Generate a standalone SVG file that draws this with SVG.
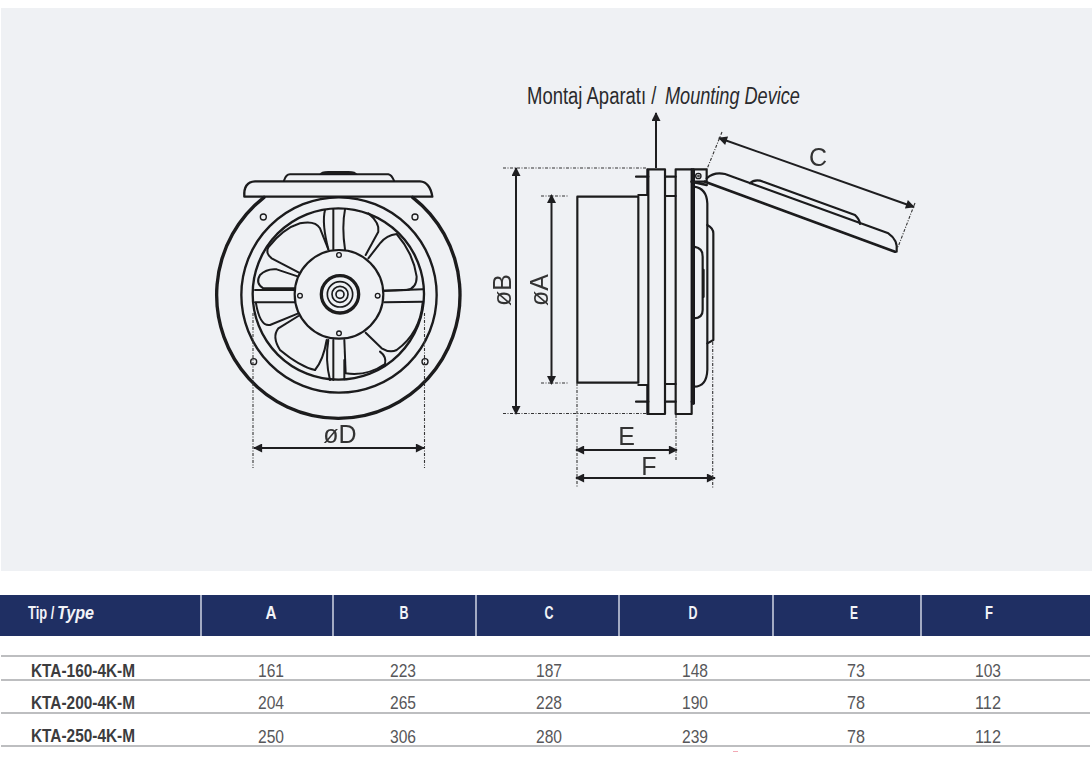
<svg xmlns="http://www.w3.org/2000/svg" width="1092" height="764" viewBox="0 0 1092 764">
<style>
text{font-family:"Liberation Sans",Arial,sans-serif}
.ln{fill:none;stroke:#1a1a1c;stroke-linecap:round;stroke-linejoin:round}
.dim{fill:none;stroke:#1e1e20;stroke-width:2}
.dash{fill:none;stroke:#333;stroke-width:1.1;stroke-dasharray:3 1.5 1 1.5}
.lab{font-size:25px;fill:#333}
.hd{font-size:19px;font-weight:700;fill:#f2f3f7;text-anchor:middle}
.nm{font-size:18px;font-weight:700;fill:#3c3c3e}
.v{font-size:19px;fill:#57575a;text-anchor:middle}
.rule{stroke:#bdbec0;stroke-width:2}
.sep{stroke:#c4cadb;stroke-width:1.6}
</style>
<defs>
<marker id="ah" viewBox="0 0 10 10" refX="9" refY="5" markerWidth="10" markerHeight="9" markerUnits="userSpaceOnUse" orient="auto-start-reverse"><path d="M0 0L10 5L0 10z" fill="#1e1e20"/></marker>
<filter id="soft" x="-5%" y="-5%" width="110%" height="110%"><feGaussianBlur stdDeviation="0.45"/></filter>
</defs>
<rect width="1092" height="764" fill="#fff"/>
<rect x="1" y="8" width="1091" height="563" fill="#eff1f4"/>

<g filter="url(#soft)">
<g id="fan-front" transform="translate(200 160) scale(.33333)">
<path class="ln" stroke-width="10" d="M192 112A365 370 0 1 0 638 112"/>
<circle class="ln" stroke-width="7" cx="417" cy="405" r="293"/>
<circle class="ln" stroke-width="7" cx="415" cy="402" r="257"/>
<path d="M133 110Q130 66 165 64H660Q690 66 697 110Z" fill="#eff1f4" class="ln" stroke-width="7"/>
<path class="ln" stroke-width="6" d="M252 62Q258 43 270 43H565Q575 45 582 62"/>
<path d="M358 43Q362 33 385 33H445Q468 33 472 43Z" fill="#1a1a1c"/>
<g class="ln" stroke-width="6">
<path d="M297 338L215 295Q195 280 205 262Q250 205 300 190Q345 180 360 205L385 268"/>
<path d="M375 150Q365 190 385 268M400 148V268M435 148Q425 200 435 268"/>
<path d="M505 160Q540 190 535 215L497 285M590 222Q560 225 540 250L505 295M590 222Q640 280 650 350Q650 385 620 390L553 392"/>
<path d="M553 392L668 388M553 427L668 425"/>
<path d="M668 428Q660 520 590 570Q570 580 545 565L497 518M540 575Q560 590 555 612Q500 650 437 640L433 540"/>
<path d="M400 540V660M433 600V658M380 540Q370 600 345 630M385 540Q375 600 390 660"/>
<path d="M345 630Q300 620 240 570Q215 530 235 505L295 468M295 460L210 495Q180 500 168 430"/>
<path d="M285 390L165 390M285 427L165 427M285 385L190 385Q165 370 180 345Q200 325 230 328L295 350"/>
</g>
<circle class="ln" style="fill:#eff1f4" stroke-width="6.500" cx="417" cy="403" r="133"/>
<circle class="ln" stroke-width="10" cx="420" cy="403" r="56"/>
<circle class="ln" stroke-width="5" cx="420" cy="403" r="38"/>
<circle class="ln" stroke-width="5" cx="420" cy="403" r="24"/>
<circle class="ln" stroke-width="5" cx="420" cy="403" r="12"/>
<g class="ln" stroke-width="4">
<circle cx="190" cy="171" r="9"/><circle cx="645" cy="171" r="9"/><circle cx="161" cy="605" r="9"/><circle cx="675" cy="605" r="9"/>
<circle cx="417" cy="285" r="7"/><circle cx="300" cy="407" r="7"/><circle cx="533" cy="407" r="7"/><circle cx="417" cy="520" r="7"/>
</g>
</g>

<g id="fan-side" transform="translate(490 70) scale(.33333)">
<g class="ln" stroke-width="6.500">
<rect x="262" y="380" width="183" height="558"/>
<path d="M445 375H472V298M445 945H472V1032M438 320H475M438 995H475"/>
<rect x="475" y="298" width="50" height="734"/>
<path d="M525 320H557M525 378H557M525 942H557M525 995H557"/>
<rect x="557" y="298" width="48" height="734"/>
<path d="M605 298H650V335H605M605 995H612"/>
<circle cx="625" cy="318" r="8" stroke-width="4"/><circle cx="625" cy="318" r="2.500" stroke-width="3"/>
<path d="M612 350Q650 355 652 400V900Q650 950 612 950"/>
<path d="M652 465Q670 475 670 490V810L652 820"/>
<path d="M612 530Q640 535 638 560V720Q638 745 612 745"/>
<path d="M640 600V680" stroke-width="8"/>
<path d="M610 300V1000" stroke-width="10"/>
<path d="M605 335L650 345" stroke-width="8"/>
<path d="M645 335L1215 545" stroke-width="8"/>
<path d="M650 325Q672 305 705 312L1195 490Q1225 510 1220 545"/>
<path d="M780 340Q795 325 820 335L1095 435Q1110 450 1110 462"/>
</g>
</g>
</g>

<g id="connectors">
<path class="dim" marker-start="url(#ah)" marker-end="url(#ah)" d="M254 448H424"/>
<path class="dash" d="M253 313V468M424.500 313V468"/>
<path class="dim" marker-start="url(#ah)" marker-end="url(#ah)" d="M516 168V414"/>
<path class="dash" d="M503 168H647M503 413.500H647"/>
<path class="dim" marker-start="url(#ah)" marker-end="url(#ah)" d="M551.500 195V384"/>
<path class="dash" d="M541 196H568M541 383H568"/>
<path class="dim" marker-start="url(#ah)" marker-end="url(#ah)" d="M576 450H677"/>
<path class="dim" marker-start="url(#ah)" marker-end="url(#ah)" d="M576 478H715"/>
<path class="dash" d="M577 383V488M676 415V460M712.700 342V488"/>
<path class="dim" marker-end="url(#ah)" d="M656 168V113"/>
<path class="dim" marker-start="url(#ah)" marker-end="url(#ah)" d="M719 138L914 207"/>
<path class="dash" d="M722 132L707 169M915 203L898 247"/>
</g>

<g id="labels">
<text class="lab" x="340" y="443" text-anchor="middle">øD</text>
<text class="lab" x="626.700" y="445" text-anchor="middle">E</text>
<text class="lab" x="649" y="475" text-anchor="middle">F</text>
<text class="lab" x="818" y="166" text-anchor="middle">C</text>
<text class="lab" transform="translate(511 290) rotate(-90)" text-anchor="middle">øB</text>
<text class="lab" transform="translate(548 290) rotate(-90)" text-anchor="middle">øA</text>
<text transform="translate(527 104) scale(.77 1)" font-size="24" fill="#2a2a2c">Montaj Aparatı /</text>
<text transform="translate(665 104) scale(.755 1)" font-size="24" font-style="italic" fill="#2a2a2c">Mounting Device</text>
</g>

<g id="table">
<rect x="0" y="595" width="1090" height="41" fill="#1f2f63"/>
<path class="sep" d="M201 595V636M333 595V636M476 595V636M619 595V636M773 595V636M921 595V636"/>
<text class="hd" transform="translate(28 619) scale(.68 1)" style="text-anchor:start">Tip /</text>
<text class="hd" transform="translate(57 619) scale(.85 1)" style="text-anchor:start" font-style="italic">Type</text>
<text class="hd" x="271" y="619" textLength="11" lengthAdjust="spacingAndGlyphs">A</text><text class="hd" x="404" y="619" textLength="9" lengthAdjust="spacingAndGlyphs">B</text><text class="hd" x="549" y="619" textLength="9" lengthAdjust="spacingAndGlyphs">C</text><text class="hd" x="693" y="619" textLength="9" lengthAdjust="spacingAndGlyphs">D</text><text class="hd" x="854" y="619" textLength="8" lengthAdjust="spacingAndGlyphs">E</text><text class="hd" x="989" y="619" textLength="8" lengthAdjust="spacingAndGlyphs">F</text>
<path class="rule" d="M1 656H1090M1 680H1090M1 713H1090M1 746H1090"/>
<text class="nm" x="31" y="677" textLength="104" lengthAdjust="spacingAndGlyphs">KTA-160-4K-M</text>
<text class="nm" x="31" y="709" textLength="104" lengthAdjust="spacingAndGlyphs">KTA-200-4K-M</text>
<text class="nm" x="31" y="742" textLength="104" lengthAdjust="spacingAndGlyphs">KTA-250-4K-M</text>
<g>
<text class="v" x="271" y="677" textLength="26" lengthAdjust="spacingAndGlyphs">161</text><text class="v" x="403" y="677" textLength="26" lengthAdjust="spacingAndGlyphs">223</text><text class="v" x="549" y="677" textLength="26" lengthAdjust="spacingAndGlyphs">187</text><text class="v" x="695" y="677" textLength="26" lengthAdjust="spacingAndGlyphs">148</text><text class="v" x="856" y="677" textLength="18" lengthAdjust="spacingAndGlyphs">73</text><text class="v" x="988" y="677" textLength="26" lengthAdjust="spacingAndGlyphs">103</text>
<text class="v" x="271" y="709" textLength="26" lengthAdjust="spacingAndGlyphs">204</text><text class="v" x="403" y="709" textLength="26" lengthAdjust="spacingAndGlyphs">265</text><text class="v" x="549" y="709" textLength="26" lengthAdjust="spacingAndGlyphs">228</text><text class="v" x="695" y="709" textLength="26" lengthAdjust="spacingAndGlyphs">190</text><text class="v" x="856" y="709" textLength="18" lengthAdjust="spacingAndGlyphs">78</text><text class="v" x="988" y="709" textLength="26" lengthAdjust="spacingAndGlyphs">112</text>
<text class="v" x="271" y="743" textLength="26" lengthAdjust="spacingAndGlyphs">250</text><text class="v" x="403" y="743" textLength="26" lengthAdjust="spacingAndGlyphs">306</text><text class="v" x="549" y="743" textLength="26" lengthAdjust="spacingAndGlyphs">280</text><text class="v" x="695" y="743" textLength="26" lengthAdjust="spacingAndGlyphs">239</text><text class="v" x="856" y="743" textLength="18" lengthAdjust="spacingAndGlyphs">78</text><text class="v" x="988" y="743" textLength="26" lengthAdjust="spacingAndGlyphs">112</text>
</g>
<rect x="733" y="751" width="5" height="1" fill="#f3a9b5"/>
</g>
</svg>
